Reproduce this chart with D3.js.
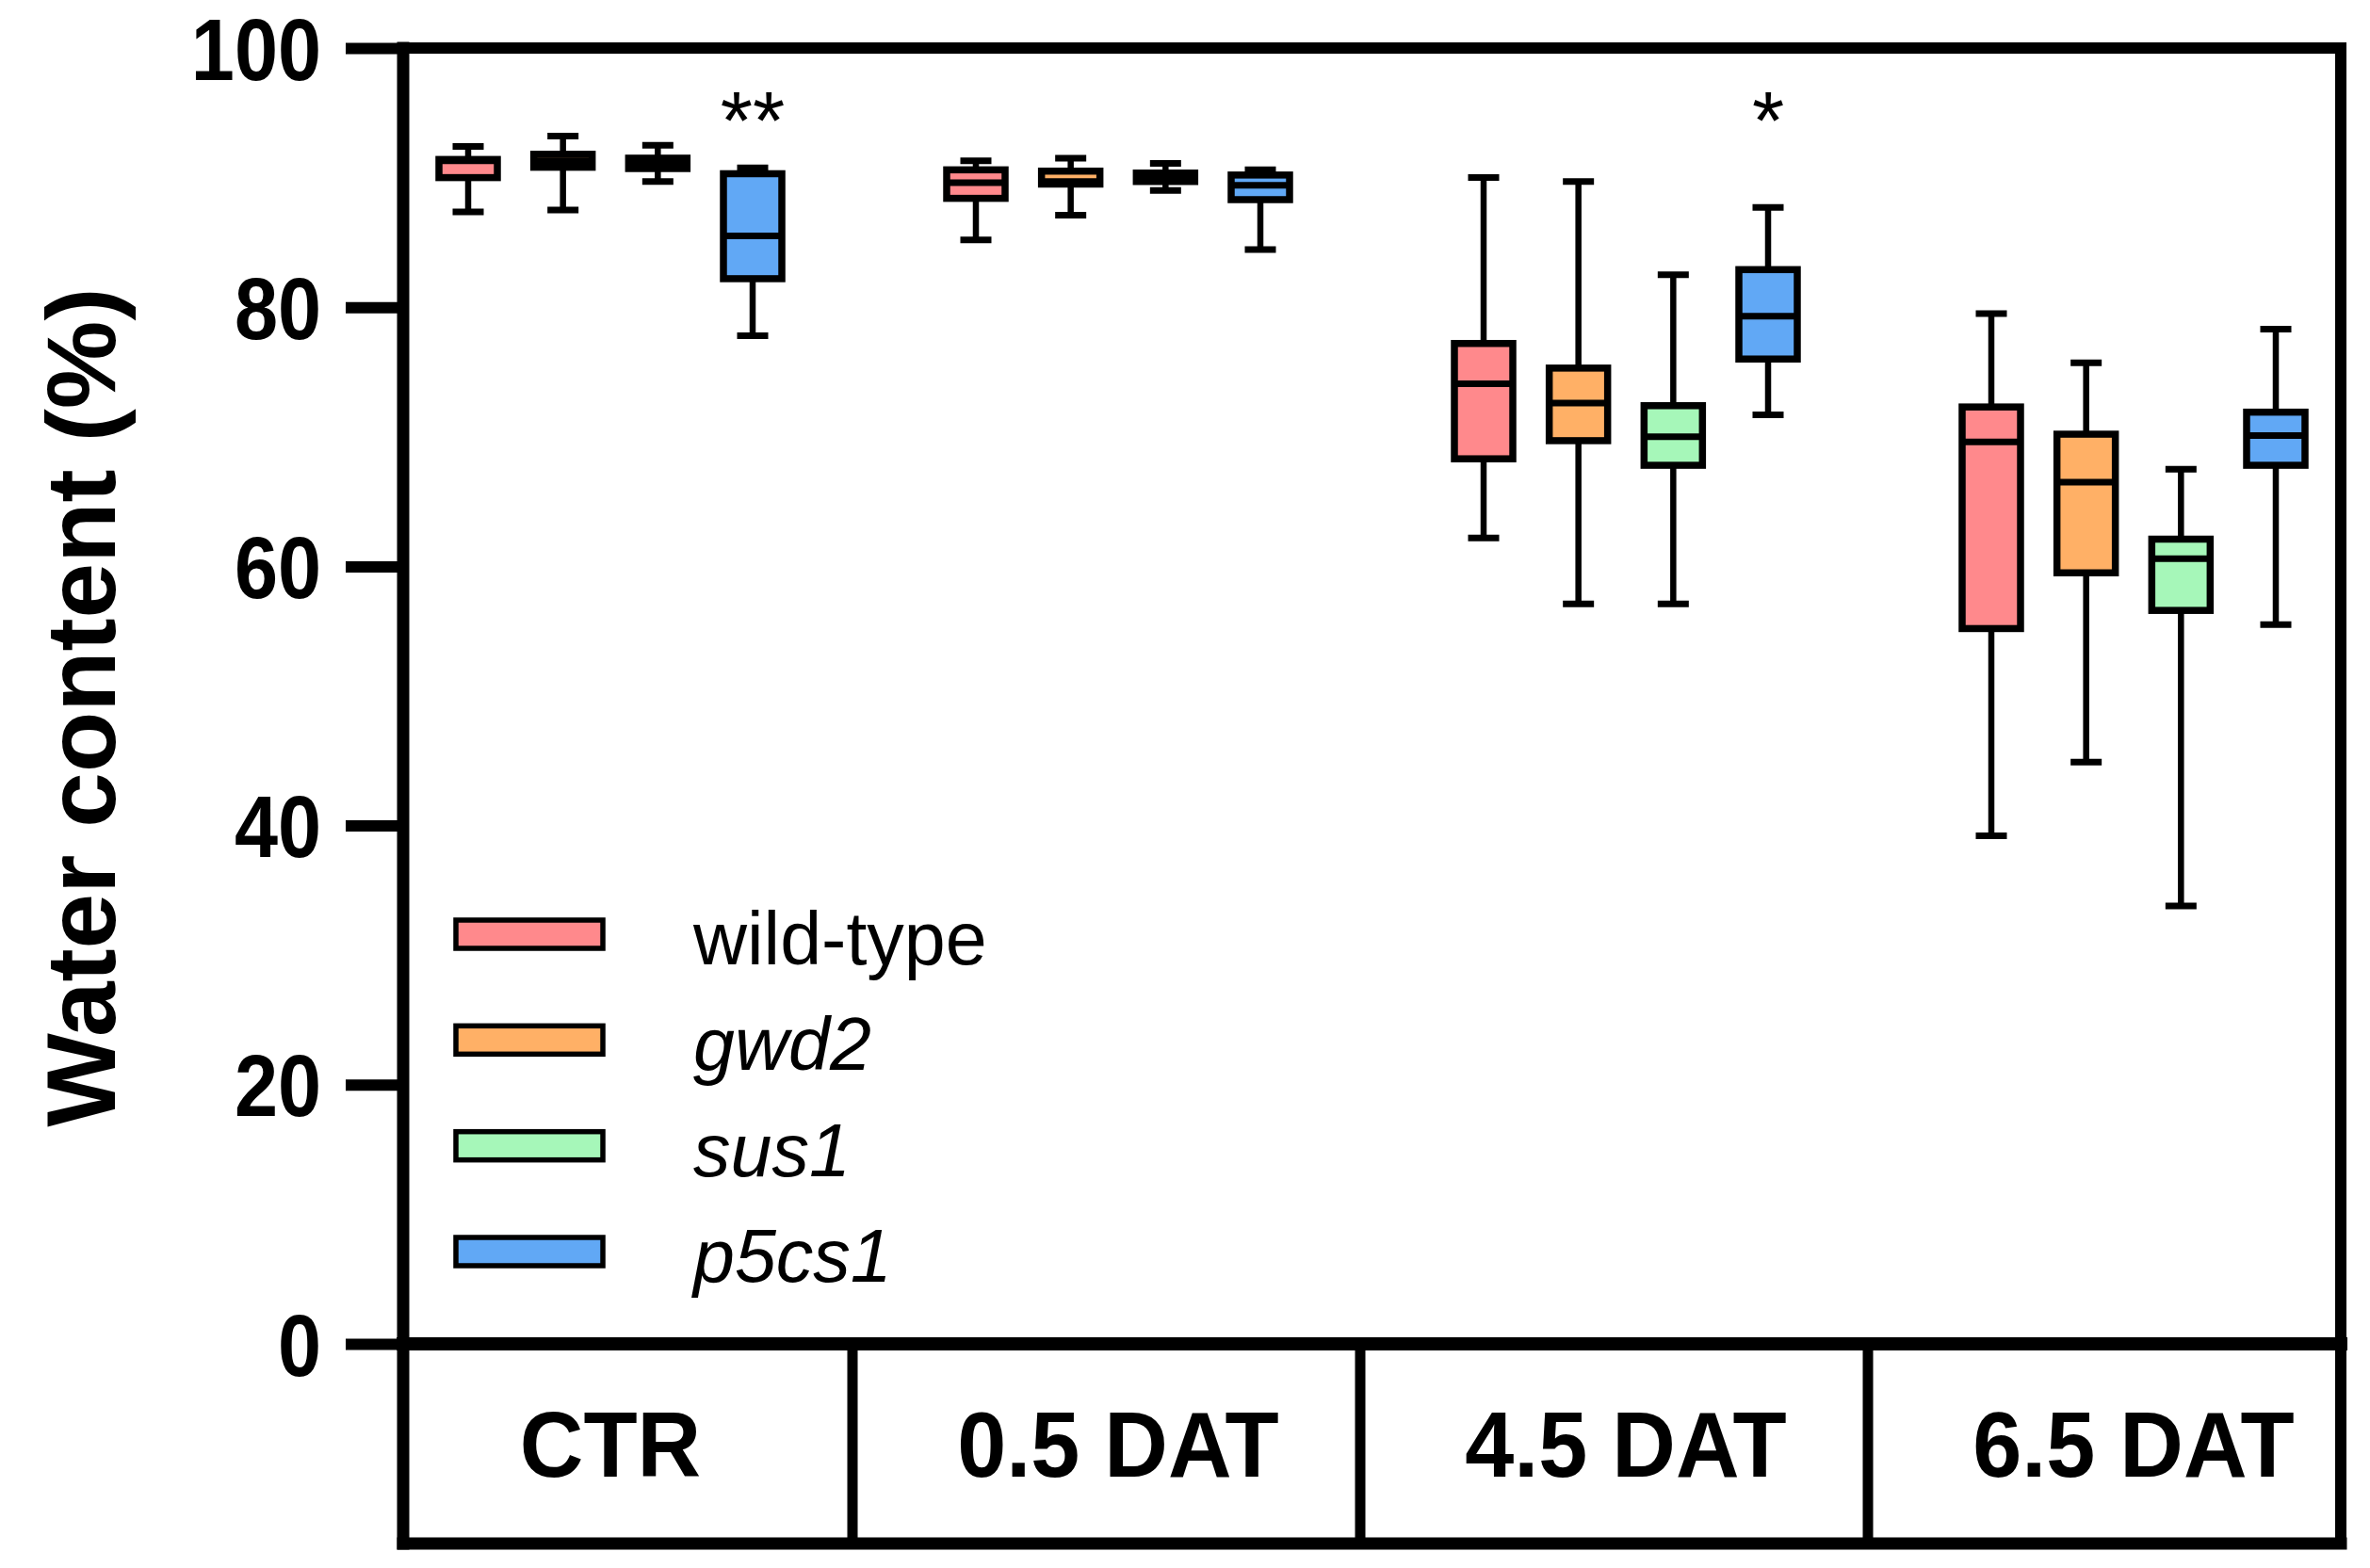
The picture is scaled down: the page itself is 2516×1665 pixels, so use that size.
<!DOCTYPE html>
<html><head><meta charset="utf-8">
<script src="https://cdn.jsdelivr.net/npm/d3@7"></script>
<style>html,body{margin:0;padding:0;background:#fff;} svg{display:block;}</style>
</head><body>
<svg id="chart" width="2516" height="1665"></svg>
<script>
// ---------- data ----------
const groups = ["CTR", "0.5 DAT", "4.5 DAT", "6.5 DAT"];
const series = ["wild-type", "gwd2", "sus1", "p5cs1"];
const italicSeries = [false, true, true, true];
// each entry: [whisker min, Q1, median, Q3, whisker max] for CTR, 0.5, 4.5, 6.5 DAT
const wildType = [[87.35, 90.0, 91.3, 91.4, 92.4], [85.2, 88.4, 89.6, 90.6, 91.3], [62.2, 68.3, 74.1, 77.2, 90.0], [39.2, 55.2, 69.6, 72.3, 79.5]];
const gwd2     = [[87.5, 90.8, 91.3, 91.8, 93.2], [87.1, 89.5, 89.7, 90.5, 91.5], [57.1, 69.7, 72.6, 75.3, 89.7], [44.9, 59.5, 66.5, 70.2, 75.7]];
const sus1     = [[89.7, 90.7, 91.1, 91.5, 92.5], [89.0, 89.7, 90.0, 90.35, 91.1], [57.1, 67.8, 70.0, 72.4, 82.5], [33.8, 56.6, 60.6, 62.1, 67.5]];
const p5cs1    = [[77.8, 82.2, 85.5, 90.3, 90.75], [84.45, 88.3, 89.4, 90.2, 90.6], [71.7, 76.0, 79.3, 82.9, 87.7], [55.5, 67.8, 70.1, 71.9, 78.3]];
const seriesStats = [wildType, gwd2, sus1, p5cs1];
const yTicks = [0, 20, 40, 60, 80, 100];
const yTitle = "Water content (%)";
const sigGroups = ["CTR", "4.5 DAT"];
const sigSeries = ["p5cs1", "p5cs1"];
const sigLabels = ["**", "*"];
const sigLevel = 96.6;
const colors = ["#FF898C", "#FFB066", "#A6F7B9", "#61A8F5"];

(function () {
// ---------- layout ----------
const FONT = "'Liberation Sans', Arial, Helvetica, sans-serif";
const pLeft = 428, pRight = 2485, pTop = 51, zeroY = 1427, tableBottom = 1639;
const svg = d3.select("#chart");

const y = d3.scaleLinear().domain([0, 100]).range([zeroY, pTop]);
const x0 = d3.scaleBand().domain(groups).range([366, 2522]).padding(0);
const xi = d3.scalePoint().domain(series).range([131, 433]);
const color = d3.scaleOrdinal().domain(series).range(colors);

const boxW = 62, capW = 33, lineW = 7.5;

// ---------- boxes ----------
const plot = svg.append("g");
const boxData = [];
series.forEach((s, si) => {
  groups.forEach((g, gi) => {
    const v = seriesStats[si][gi];
    boxData.push({ s, g, min: v[0], q1: v[1], med: v[2], q3: v[3], max: v[4], cx: x0(g) + xi(s) });
  });
});
const bg = plot.selectAll("g.box").data(boxData).join("g").attr("class", "box");
bg.append("line")
  .attr("x1", d => d.cx).attr("x2", d => d.cx)
  .attr("y1", d => y(d.min)).attr("y2", d => y(d.max))
  .attr("stroke", "#000").attr("stroke-width", 6.5);
bg.selectAll("line.cap").data(d => [d.min, d.max].map(v => ({ cx: d.cx, v }))).join("line")
  .attr("class", "cap")
  .attr("x1", d => d.cx - capW / 2).attr("x2", d => d.cx + capW / 2)
  .attr("y1", d => y(d.v)).attr("y2", d => y(d.v))
  .attr("stroke", "#000").attr("stroke-width", 7);
bg.append("rect")
  .attr("x", d => d.cx - boxW / 2).attr("width", boxW)
  .attr("y", d => y(d.q3)).attr("height", d => y(d.q1) - y(d.q3))
  .attr("fill", d => color(d.s)).attr("stroke", "#000").attr("stroke-width", lineW);
bg.append("line")
  .attr("x1", d => d.cx - boxW / 2).attr("x2", d => d.cx + boxW / 2)
  .attr("y1", d => y(d.med)).attr("y2", d => y(d.med))
  .attr("stroke", "#000").attr("stroke-width", 7);

// ---------- significance ----------
svg.append("g").selectAll("text").data(sigLabels).join("text")
  .attr("x", (d, i) => x0(sigGroups[i]) + xi(sigSeries[i]))
  .attr("y", y(sigLevel) + 60)
  .attr("text-anchor", "middle")
  .attr("font-family", FONT).attr("font-size", 88)
  .attr("fill", "#000")
  .text(d => d);

// ---------- y axis ----------
const yAxis = svg.append("g")
  .attr("transform", `translate(${pLeft},0)`)
  .call(d3.axisLeft(y).tickValues(yTicks).tickSize(61).tickPadding(26).tickFormat(d3.format("d")));
yAxis.select(".domain").remove();
yAxis.selectAll(".tick line").attr("stroke", "#000").attr("stroke-width", 12);
yAxis.selectAll(".tick text")
  .attr("font-family", FONT).attr("font-weight", "bold").attr("font-size", 92)
  .attr("dy", "0.36em")
  .attr("fill", "#000")
  .each(function () {
    const w = this.getComputedTextLength();
    d3.select(this).attr("textLength", w * 0.9).attr("lengthAdjust", "spacingAndGlyphs");
  });

// ---------- frame ----------
const frame = svg.append("g").attr("stroke", "#000").attr("stroke-linecap", "square").attr("fill", "none");
frame.append("line").attr("x1", pLeft).attr("x2", pLeft).attr("y1", pTop).attr("y2", tableBottom).attr("stroke-width", 13);
frame.append("line").attr("x1", pLeft).attr("x2", pRight).attr("y1", pTop).attr("y2", pTop).attr("stroke-width", 12);
frame.append("line").attr("x1", pRight).attr("x2", pRight).attr("y1", pTop).attr("y2", tableBottom).attr("stroke-width", 12);
frame.append("line").attr("x1", pLeft).attr("x2", pRight).attr("y1", zeroY).attr("y2", zeroY).attr("stroke-width", 14);
frame.append("line").attr("x1", pLeft).attr("x2", pRight).attr("y1", tableBottom).attr("y2", tableBottom).attr("stroke-width", 13);
frame.selectAll("line.div").data(groups.slice(1)).join("line").attr("class", "div")
  .attr("x1", d => x0(d)).attr("x2", d => x0(d))
  .attr("y1", zeroY).attr("y2", tableBottom).attr("stroke-width", 11);

// ---------- category labels ----------
svg.append("g").selectAll("text").data(groups).join("text")
  .attr("x", d => x0(d) + (xi(series[0]) + xi(series[3])) / 2)
  .attr("y", 1568)
  .attr("text-anchor", "middle")
  .attr("font-family", FONT).attr("font-weight", "bold").attr("font-size", 99)
  .attr("fill", "#000")
  .text(d => d)
  .each(function () {
    const w = this.getComputedTextLength();
    d3.select(this).attr("textLength", w * 0.945).attr("lengthAdjust", "spacingAndGlyphs");
  });

// ---------- y title ----------
svg.append("text")
  .attr("transform", `translate(122,${(pTop + zeroY) / 2 + 12}) rotate(-90)`)
  .attr("text-anchor", "middle")
  .attr("font-family", FONT).attr("font-weight", "bold").attr("font-size", 104)
  .attr("textLength", 891).attr("lengthAdjust", "spacingAndGlyphs")
  .attr("fill", "#000")
  .text(yTitle);

// ---------- legend ----------
const ly = d3.scalePoint().domain(series).range([992, 1329]);
const leg = svg.append("g").selectAll("g").data(series).join("g")
  .attr("transform", d => `translate(0,${ly(d)})`);
leg.append("rect")
  .attr("x", 484).attr("y", -15).attr("width", 156).attr("height", 30)
  .attr("fill", d => color(d)).attr("stroke", "#000").attr("stroke-width", 5.5);
leg.append("text")
  .attr("x", 736).attr("y", 32)
  .attr("font-family", FONT).attr("font-size", 79)
  .attr("font-style", (d, i) => italicSeries[i] ? "italic" : "normal")
  .attr("fill", "#000")
  .text(d => d);
})();
</script>
</body></html>
